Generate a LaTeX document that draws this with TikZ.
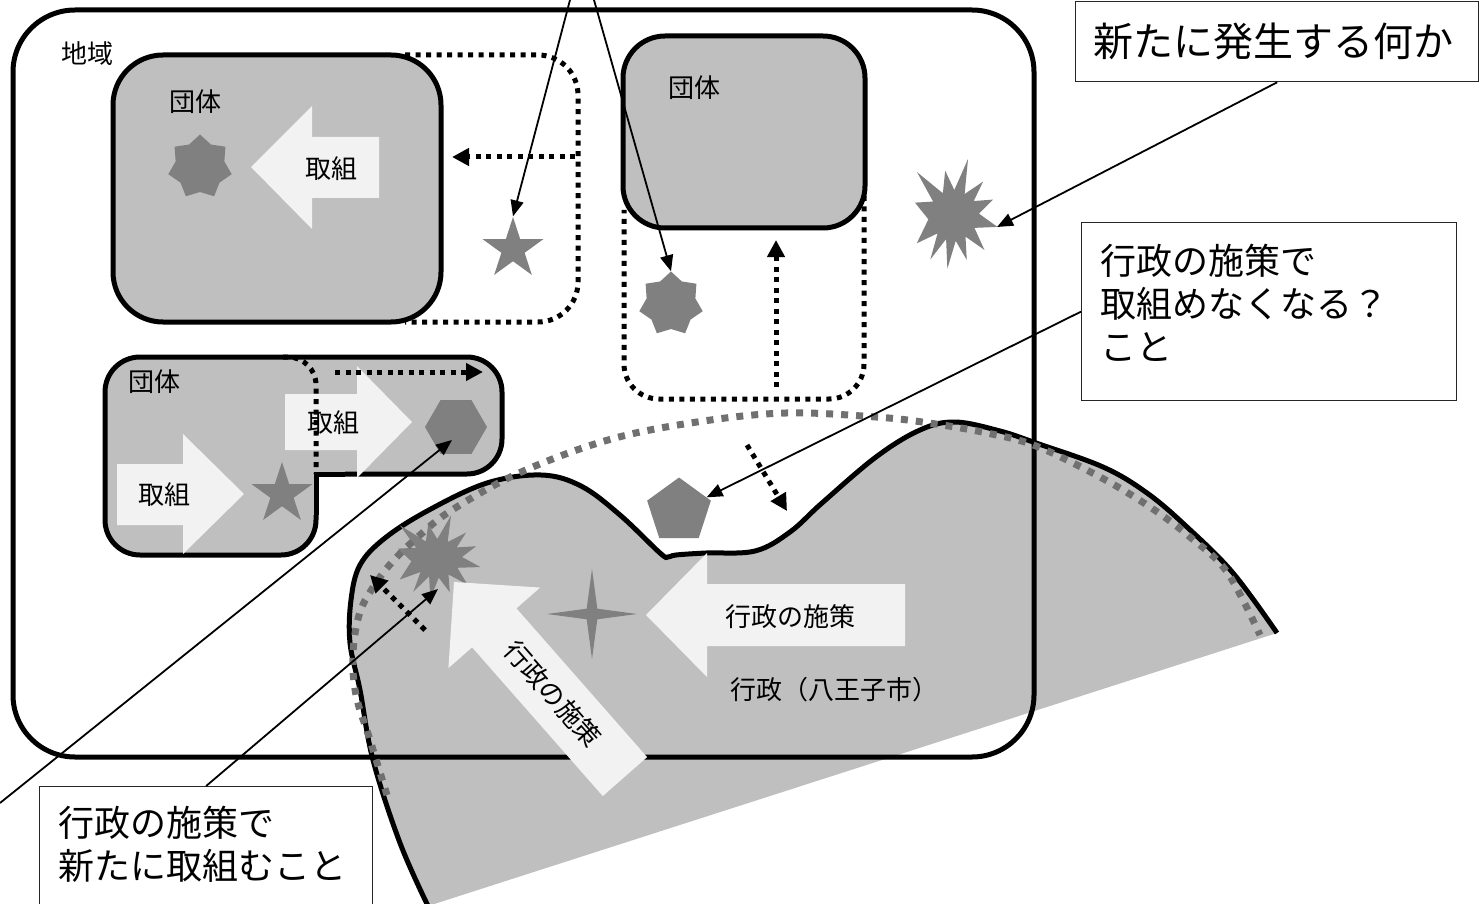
\documentclass[tikz,border=0pt]{standalone}
\usepackage{fontspec}
\setmainfont{Noto Sans CJK JP}
\usetikzlibrary{arrows.meta,shapes.geometric}
\definecolor{grpfill}{HTML}{BFBFBF}
\definecolor{shpgray}{HTML}{808080}
\definecolor{warrow}{HTML}{F2F2F2}
\definecolor{dotgray}{HTML}{707070}
\tikzset{
  thk/.style={line width=5pt},
  dotblk/.style={line width=5pt, dash pattern=on 5pt off 5.5pt},
  dotgry/.style={line width=7pt, draw=dotgray, dash pattern=on 7pt off 8pt},
  grpbox/.style={fill=grpfill, draw=black, line width=5pt},
  shp/.style={fill=shpgray, draw=none, inner sep=0pt},
  conn/.style={line width=1.8pt, -{Triangle[length=16pt,width=13pt]}},
  darrow/.style={dotblk, -{Triangle[length=17pt,width=17pt]}},
  callout/.style={draw=black!85, line width=1.3pt, fill=white, inner sep=0pt},
  lbl/.style={inner sep=0pt, font=\fontsize{26}{30}\selectfont},
  bigtxt/.style={inner sep=0pt, align=left, font=\fontsize{36}{43}\selectfont},
  burst/.pic={\fill[shpgray] (-162:40) -- (-146:24) -- (-130:56) -- (-115:24) -- (-100:45) -- (-87:25) -- (-75:58) -- (-61:24) -- (-48:45) -- (-34:25) -- (-21:43) -- (-3:26) -- (15:46) -- (31:25) -- (48:47) -- (60:25) -- (73:47) -- (84:26) -- (96:54) -- (106:25) -- (117:50) -- (130:24) -- (142:46) -- (170:25) -- cycle;}
}
\begin{document}
\begin{tikzpicture}[x=1pt,y=-1pt]
\useasboundingbox (0,0) rectangle (1483,904);

% ---------- administration region ----------
\fill[grpfill] plot[smooth,tension=0.6] coordinates {(428,906) (400,843) (373,760) (360,690) (350,643) (351,600) (360,565) (385,538) (429,510) (487,483) (541,475) (581,486) (620,515) (660,553) (668,557) (676,555) (706,553) (755,551) (790,532) (822,503) (876,457) (920,430) (955,422) (1000,431) (1036,443) (1103,467) (1147,493) (1187,527) (1233,573) (1277,633)} -- cycle;
\draw[thk] plot[smooth,tension=0.6] coordinates {(428,906) (400,843) (373,760) (360,690) (350,643) (351,600) (360,565) (385,538) (429,510) (487,483) (541,475) (581,486) (620,515) (660,553) (668,557) (676,555) (706,553) (755,551) (790,532) (822,503) (876,457) (920,430) (955,422) (1000,431) (1036,443) (1103,467) (1147,493) (1187,527) (1233,573) (1277,633)};

% ---------- outer region ----------
\draw[thk, rounded corners=62pt] (13,10) rectangle (1034,757);
\node[lbl] (chiiki) at (87,54) {地域};

% ---------- group 1 ----------
\draw[dotblk, rounded corners=40pt] (405,55) -- (578,55) -- (578,322) -- (405,322);
\draw[grpbox, rounded corners=50pt] (113,55) rectangle (441,322);
\node[lbl] (g1lbl) at (195,102) {団体};
\node[shp, star, star points=7, star point ratio=1.3, minimum size=65pt] (s7a) at (200,167) {};
\fill[warrow] (251,167) -- (312,106) -- (312,137) -- (379,137) -- (379,198) -- (312,198) -- (312,229) -- cycle;
\node[lbl] (g1act) at (331,169) {取組};
\node[shp, star, star points=5, star point ratio=2.618, minimum size=64pt] (s5a) at (513,249) {};
\coordinate (d1s) at (575,157);
\coordinate (d1e) at (452,157);
\draw[darrow] (d1s) -- (d1e);

% ---------- group 2 ----------
\draw[dotblk, rounded corners=35pt] (864,112) -- (864,399) -- (624,399) -- (624,210);
\draw[grpbox, rounded corners=42pt] (623,36) rectangle (865,228);
\node[lbl] (g2lbl) at (694,88) {団体};
\node[shp, star, star points=7, star point ratio=1.3, minimum size=65pt] (s7b) at (671,304) {};
\coordinate (d2s) at (776,387);
\coordinate (d2e) at (776,240);
\draw[darrow] (d2s) -- (d2e);

% ---------- group 3 ----------
\fill[grpfill, rounded corners=35pt] (105,357) rectangle (316,555);
\fill[grpfill, rounded corners=35pt] (250,357) rectangle (502,474);
\draw[thk, rounded corners=35pt] (316,515) -- (316,555) -- (105,555) -- (105,357) -- (502,357) -- (502,474) -- (345,474);
\draw[thk, line join=miter] (345,474) -- (316,474) -- (316,515);
\node[lbl] (g3lbl) at (154,382) {団体};
\fill[warrow] (244,494) -- (183,434) -- (183,464) -- (117,464) -- (117,525) -- (183,525) -- (183,554) -- cycle;
\node[lbl] (g3acta) at (164,495) {取組};
\fill[warrow] (412,422) -- (357,366) -- (357,394) -- (285,394) -- (285,450) -- (357,450) -- (357,478) -- cycle;
\node[lbl] (g3actb) at (333,423) {取組};
\node[shp, star, star points=5, star point ratio=2.618, minimum size=64pt] (s5b) at (282,494) {};
\node[shp, regular polygon, regular polygon sides=6, minimum size=62pt] (hex) at (456,427) {};
\draw[dotblk, rounded corners=28pt] (283,357) -- (316,357) -- (316,474);
\coordinate (d3s) at (335,372);
\coordinate (d3e) at (483,372);
\draw[darrow] (d3s) -- (d3e);

% ---------- bursts ----------
\pic at (953,215) {burst};
\coordinate (b1tip) at (997,227);
\pic[xscale=1.0, yscale=0.76] at (436,558) {burst};
\coordinate (b2tip) at (438,589);

% ---------- grey dotted boundary ----------
\draw[dotgry] plot[smooth,tension=0.6] coordinates {(387,795) (370,740) (356,695) (353,653) (360,612) (376,583) (394,560) (420,535) (452,510) (519,473) (608,440) (697,422) (786,413) (876,417) (929,423) (987,433) (1036,446) (1100,477) (1150,507) (1190,537) (1227,572) (1260,635)};

% ---------- administration contents ----------
\begin{scope}[shift={(454,582)}, rotate=131.3]
\fill[warrow] (0,0) -- (-61,61) -- (-61,29.5) -- (-259,29.5) -- (-259,-29.5) -- (-61,-29.5) -- (-61,-61) -- cycle;
\end{scope}
\node[lbl, rotate=-48.7] (diagtxt) at (553,694) {行政の施策};
\fill[warrow] (646,615) -- (707,553) -- (707,584) -- (905,584) -- (905,646) -- (707,646) -- (707,677) -- cycle;
\node[lbl] (admtxt) at (790,617) {行政の施策};
\node[shp, star, star points=4, star point ratio=6, minimum size=90pt] (s4) at (592,614) {};
\node[shp, regular polygon, regular polygon sides=5, minimum size=67pt] (pent) at (679,511) {};
\node[lbl] (hachioji) at (834,690) {行政（八王子市）};
\coordinate (d4s) at (747,445);
\coordinate (d4e) at (787,511);
\draw[darrow] (d4s) -- (d4e);
\coordinate (d5s) at (425,630);
\coordinate (d5e) at (370,575);
\draw[darrow] (d5s) -- (d5e);

% ---------- callouts ----------
\node[callout, minimum width=403pt, minimum height=80pt, anchor=north west] (box1) at (1075,1) {};
\node[bigtxt, font=\fontsize{40}{48}\selectfont, anchor=west] (box1txt) at (1093,41) {新たに発生する何か};
\node[callout, minimum width=375pt, minimum height=178pt, anchor=north west] (box2) at (1081,222) {};
\node[bigtxt, anchor=west] (box2txt) at (1100,303) {行政の施策で\\取組めなくなる？\\こと};
\node[callout, minimum width=333pt, minimum height=140pt, anchor=north west] (box3) at (39,786) {};
\node[bigtxt, anchor=west] (box3txt) at (58,844) {行政の施策で\\新たに取組むこと};

% ---------- connectors ----------
\coordinate (t1) at (570,0);
\coordinate (t2) at (594,0);
\coordinate (ll) at (0,803);
\draw[conn] (t1) -- (s5a.north);
\draw[conn] (t2) -- (s7b.north);
\draw[conn] (box1.south) -- (b1tip);
\draw[conn] (box2.west) -- (pent);
\draw[conn] (box3.north) -- (b2tip);
\draw[conn] (ll) -- ([shift={(-4,13)}]hex.center);
\end{tikzpicture}
\end{document}
